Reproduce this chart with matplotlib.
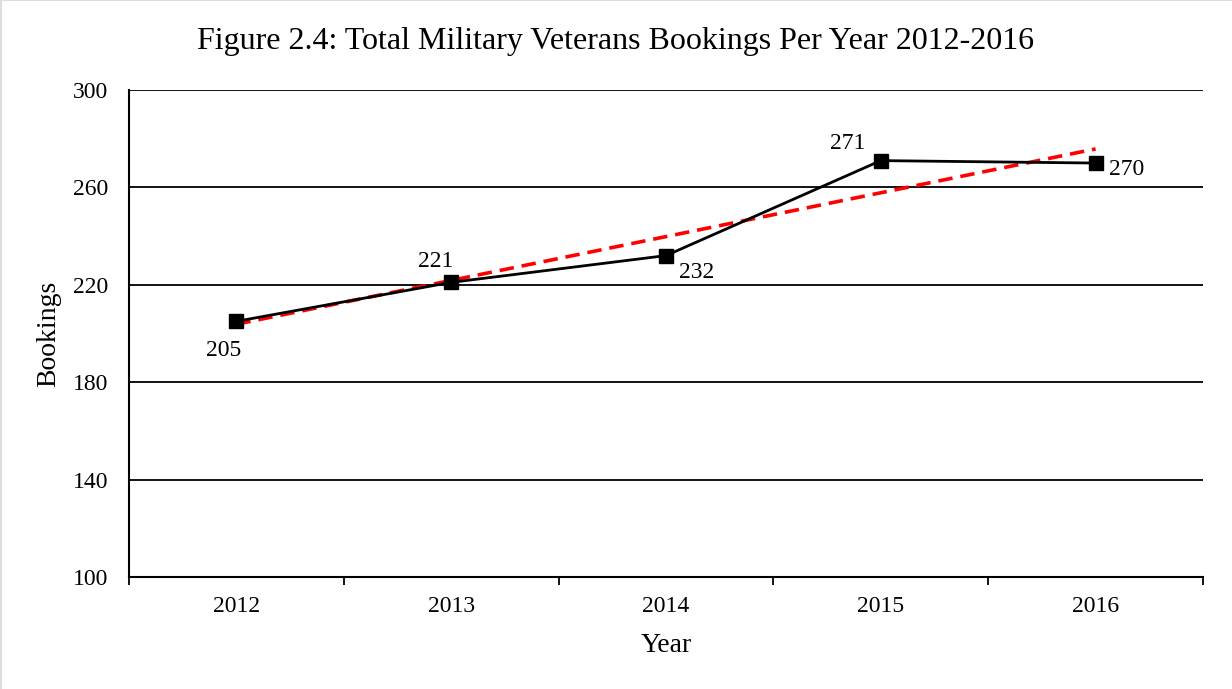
import matplotlib
matplotlib.use("Agg")
import matplotlib.pyplot as plt
import numpy as np

years = ["2012", "2013", "2014", "2015", "2016"]
bookings = [205, 221, 232, 271, 270]
yticks = [100, 140, 180, 220, 260, 300]
title = "Figure 2.4: Total Military Veterans Bookings Per Year 2012-2016"

plt.rcParams['font.family'] = ['Liberation Serif', 'DejaVu Serif']

fig = plt.figure(figsize=(12.32, 6.89), dpi=100)
ax = fig.add_axes([129/1232, 1 - 577/689, (1203-129)/1232, (577-90)/689])

x = np.arange(len(years))
coef = np.polyfit(x, bookings, 1)
trend = np.polyval(coef, x)

ax.plot(x, trend, color='#ff0000', lw=2.6, ls=(0, (4, 2.2)), zorder=3)
ax.plot(x, bookings, color='black', lw=2.0, marker='s', markersize=10, zorder=4)

offsets = [(-9, -21), (-11, 15), (22, -12), (-24, 12), (22, -5)]
for xi, v, off in zip(x, bookings, offsets):
    ax.annotate(str(v), (xi, v), xytext=off, textcoords='offset points',
                ha='center', va='center', fontsize=17)

ax.set_xlim(-0.5, len(years) - 0.5)
ax.set_ylim(100, 300)
ax.set_yticks(yticks)
ax.set_yticklabels([str(t) for t in yticks], fontsize=17)
ax.yaxis.grid(True, color='black', lw=1.3)
ax.set_axisbelow(True)
ax.tick_params(axis='y', length=0, pad=15)

ax.set_xticks(x)
ax.set_xticklabels(years, fontsize=17)
ax.tick_params(axis='x', which='major', length=0, pad=14)
ax.set_xticks(np.arange(len(years) + 1) - 0.5, minor=True)
ax.tick_params(axis='x', which='minor', length=6, width=1.3, direction='out')

for s in ['top', 'right']:
    ax.spines[s].set_visible(False)
for s in ['left', 'bottom']:
    ax.spines[s].set_linewidth(1.5)

ax.set_xlabel("Year", fontsize=20, labelpad=11)
ax.set_ylabel("Bookings", fontsize=20, labelpad=8)
fig.text(616/1232, 1 - 42/689, title, ha='center', va='center', fontsize=23)

fig.add_artist(plt.Line2D([0.0008, 0.0008], [0, 1], transform=fig.transFigure,
                          color='#dddddd', lw=1.5))
fig.add_artist(plt.Line2D([0, 1], [0.9993, 0.9993], transform=fig.transFigure,
                          color='#dddddd', lw=1.5))
fig.savefig("out.png", dpi=100)
